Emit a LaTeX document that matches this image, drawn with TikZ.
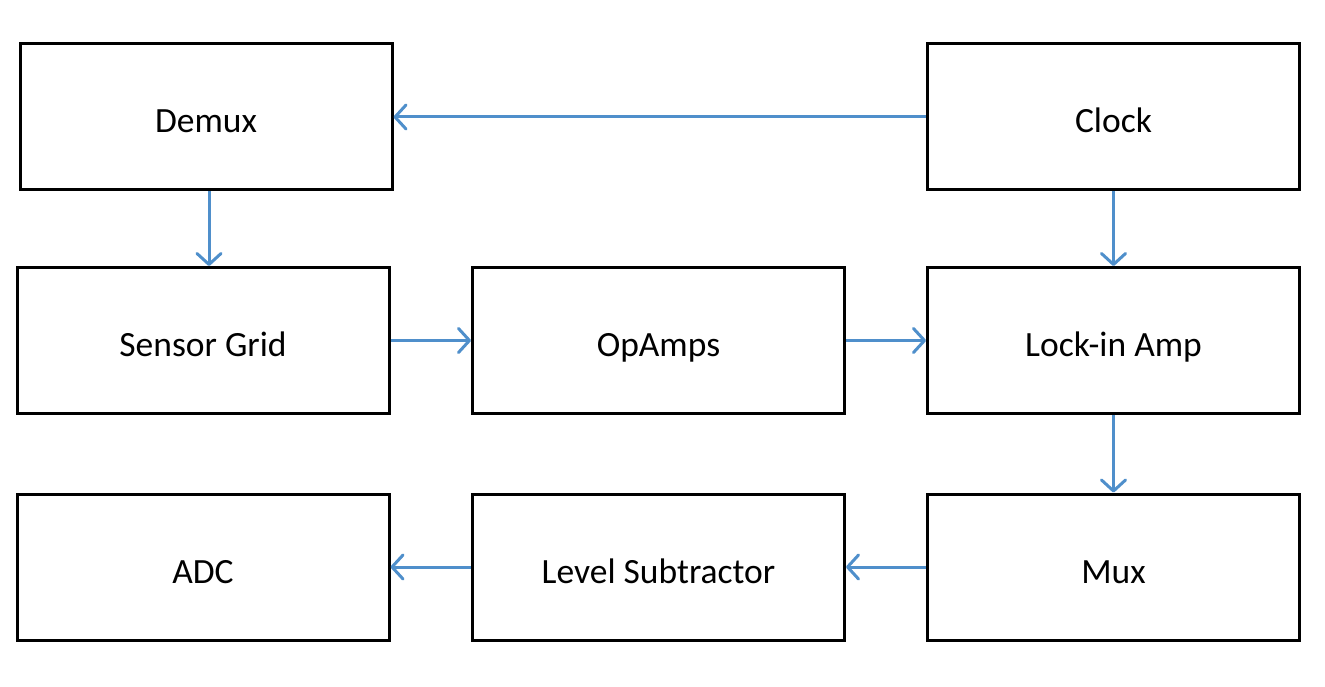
\documentclass[tikz,border=0pt]{standalone}
\usepackage{fontspec}
\setmainfont{Carlito}
\usetikzlibrary{arrows.meta}
\definecolor{arrowblue}{RGB}{79,143,203}
\begin{document}
\begin{tikzpicture}[x=1pt,y=-1pt,
  blk/.style={draw=black,line width=3pt,fill=white,minimum width=372pt,minimum height=146pt,inner sep=0pt,font=\fontsize{35.5}{40}\selectfont,text height=38pt,text depth=6pt},
  conn/.style={draw=arrowblue,line width=3pt,-{Straight Barb[length=11pt,width=24pt,round]}}]
\useasboundingbox (0,0) rectangle (1325,687);
\node[blk] (demux) at (206,117) {Demux};
\node[blk] (clock) at (1113.5,117) {Clock};
\node[blk] (sensor) at (203,340.5) {Sensor Grid};
\node[blk] (opamps) at (658.5,340.5) {OpAmps};
\node[blk] (lockin) at (1113.5,340.5) {Lock-in Amp};
\node[blk] (adc) at (203,567) {ADC};
\node[blk] (level) at (658.5,567) {Level Subtractor};
\node[blk] (mux) at (1113.5,567) {Mux};
\draw[conn] (clock.west) -- (demux.east);
\draw[conn] (demux.south) ++(3,0) coordinate (d1) (d1) -- (d1 |- sensor.north);
\draw[conn] (sensor.east) -- (opamps.west);
\draw[conn] (opamps.east) -- (lockin.west);
\draw[conn] (clock.south) -- (lockin.north);
\draw[conn] (lockin.south) -- (mux.north);
\draw[conn] (mux.west) -- (level.east);
\draw[conn] (level.west) -- (adc.east);
\end{tikzpicture}
\end{document}
